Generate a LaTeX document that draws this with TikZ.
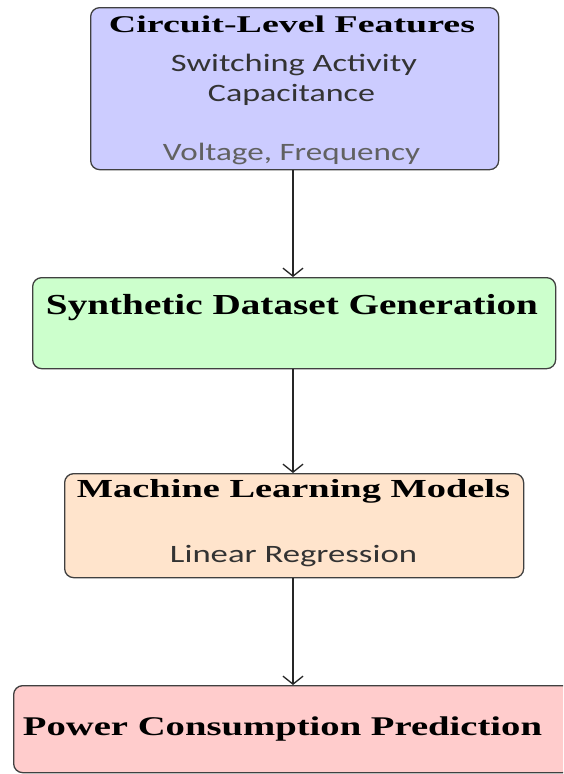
\documentclass[tikz,border=0pt]{standalone}
\usepackage{fontspec}
\setmainfont{Liberation Serif}
\newfontfamily\calfont{Carlito}
\usetikzlibrary{arrows.meta}
\definecolor{bluefill}{HTML}{CCCCFF}
\definecolor{greenfill}{HTML}{CCFFCC}
\definecolor{orangefill}{HTML}{FFE4CC}
\definecolor{redfill}{HTML}{FFCCCC}
\newcommand{\sqz}[2]{\resizebox{#1pt}{\height}{#2}}
\begin{document}
\begin{tikzpicture}[x=1pt,y=-1pt,
  box/.style={draw=black!75, line width=1.3pt, rounded corners=9pt, inner sep=0pt, anchor=north west},
  ttl/.style={anchor=base, inner sep=0pt, font=\bfseries, text=black},
  sub/.style={anchor=base, inner sep=0pt, font=\calfont, text=black!80},
  arr/.style={-{Straight Barb[length=8pt,width=20pt]}, line width=1.3pt, draw=black!85}]
\useasboundingbox (0,0) rectangle (563,774);
\clip (0,0) rectangle (563,774);
\node[box, fill=bluefill, minimum width=408pt, minimum height=162pt] (b1) at (90,7) {};
\node[box, fill=greenfill, minimum width=523pt, minimum height=91pt] (b2) at (32,277) {};
\node[box, fill=orangefill, minimum width=459pt, minimum height=104pt] (b3) at (64,473) {};
\node[box, fill=redfill, minimum width=558pt, minimum height=87pt] (b4) at (13,685) {};

\node[ttl] (t1) at (292,32) {\sqz{366}{\fontsize{24}{28}\selectfont Circuit-Level Features}};
\node[sub] (s1) at (294,71) {\sqz{246}{\fontsize{25}{30}\selectfont Switching Activity}};
\node[sub] (s2) at (291.5,101) {\sqz{167}{\fontsize{25}{30}\selectfont Capacitance}};
\node[sub, text=black!62] (s3) at (291.5,160) {\sqz{257}{\fontsize{25}{30}\selectfont Voltage, Frequency}};
\node[ttl] (t2) at (292,314) {\sqz{492}{\fontsize{29}{34}\selectfont Synthetic Dataset Generation}};
\node[ttl] (t3) at (293.5,497) {\sqz{433}{\fontsize{26}{30}\selectfont Machine Learning Models}};
\node[sub] (s4) at (293.5,562) {\sqz{247}{\fontsize{25}{30}\selectfont Linear Regression}};
\node[ttl] (t4) at (282.5,735) {\sqz{519}{\fontsize{27}{32}\selectfont Power Consumption Prediction}};

\coordinate (ax) at (293,0);
\draw[arr] (b1.south -| ax) -- (b2.north -| ax);
\draw[arr] (b2.south -| ax) -- (b3.north -| ax);
\draw[arr] (b3.south -| ax) -- (b4.north -| ax);
\end{tikzpicture}
\end{document}
